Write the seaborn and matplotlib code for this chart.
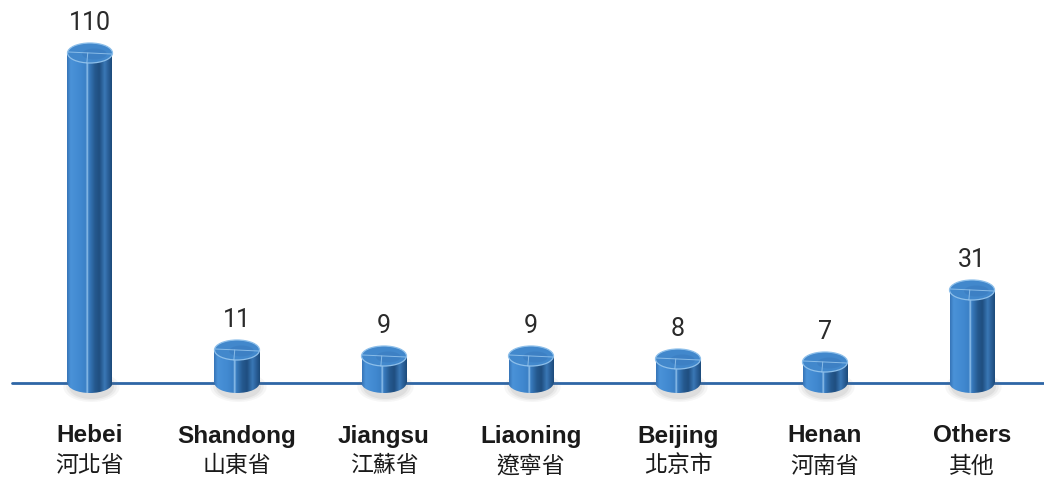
import numpy as np
import pandas as pd
import matplotlib
matplotlib.use("Agg")
import matplotlib.pyplot as plt
import seaborn as sns
from matplotlib.patches import Ellipse
from matplotlib.colors import LinearSegmentedColormap

# ---- data ----
regions_en = ["Hebei", "Shandong", "Jiangsu", "Liaoning", "Beijing", "Henan", "Others"]
regions_zh = ["河北省", "山東省", "江蘇省", "遼寧省", "北京市", "河南省", "其他"]
counts = [110, 11, 9, 9, 8, 7, 31]

sns.set_theme(style="white")
plt.rcParams["font.family"] = ["Liberation Sans", "Noto Sans CJK TC", "DejaVu Sans"]

W, H = 1044, 479
fig = plt.figure(figsize=(W / 100, H / 100), dpi=100)
ax = fig.add_axes([0, 0, 1, 1])

px_per_unit = 3.0
spacing_px = 147.0
XLIM = (-90 / spacing_px, 6 + (W - 972) / spacing_px)
YLIM = (-(H - 383) / px_per_unit, 383 / px_per_unit)

df = pd.DataFrame({"region": regions_en, "count": counts})
bar_w = 45 / spacing_px
sns.barplot(data=df, x="region", y="count", ax=ax, width=bar_w,
            color="#3d80c8", saturation=1, zorder=3, errorbar=None)
ax.axis("off")

# baseline
ax.axhline(0, xmin=12 / W, xmax=1, color="#2e66a6", lw=2, zorder=1)

cmap = LinearSegmentedColormap.from_list("cyl", [
    (0.00, "#3674b6"),
    (0.08, "#4a92d8"),
    (0.30, "#4189d0"),
    (0.42, "#3b80c6"),
    (0.45, "#9cc9f0"),
    (0.48, "#3a7ec2"),
    (0.62, "#25598f"),
    (0.72, "#1f4e80"),
    (0.84, "#3a78b6"),
    (0.92, "#2a5f98"),
    (1.00, "#1c4a7a"),
])
grad = np.linspace(0, 1, 256).reshape(1, -1)
eh = 20 / px_per_unit  # ellipse height in data units

for p in ax.patches[:len(counts)]:
    x0 = p.get_x()
    w = p.get_width()
    h = p.get_height()
    cx = x0 + w / 2
    p.set_alpha(0)
    # soft shadow
    for k, a in [(1.25, 0.06), (1.12, 0.08), (1.0, 0.10)]:
        sh = Ellipse((cx + 0.01, -eh * 0.2), w * k, eh * 1.2 * k,
                     facecolor="#6f6f6f", edgecolor="none", alpha=a, zorder=2)
        ax.add_patch(sh)
    # body gradient
    im = ax.imshow(grad, extent=[x0, x0 + w, 0, h], aspect="auto", cmap=cmap,
                   zorder=4, interpolation="bilinear")
    im.set_clip_path(p)
    # bottom ellipse
    be = Ellipse((cx, 0), w, eh, facecolor="none", edgecolor="none", zorder=4)
    ax.add_patch(be)
    im2 = ax.imshow(grad, extent=[x0, x0 + w, -eh / 2, eh / 2], aspect="auto",
                    cmap=cmap, zorder=4, interpolation="bilinear")
    im2.set_clip_path(be)
    # top ellipse
    te = Ellipse((cx, h), w, eh, facecolor="#4288cc", edgecolor="#8dbfea",
                 lw=0.9, zorder=6)
    ax.add_patch(te)
    inner = Ellipse((cx + w * 0.1, h - eh * 0.05), w * 0.55, eh * 0.55,
                    facecolor="#3a7cbf", edgecolor="none", alpha=0.6, zorder=6)
    ax.add_patch(inner)
    ax.plot([x0 + 0.02 * w, x0 + 0.98 * w], [h + eh * 0.05, h - eh * 0.05],
            color="#9ccaf0", lw=0.7, alpha=0.8, zorder=7)
    ax.plot([cx - 0.05 * w, cx - 0.07 * w], [h, h - eh / 2],
            color="#9ccaf0", lw=0.7, alpha=0.8, zorder=7)

ax.set_xlim(*XLIM)
ax.set_ylim(*YLIM)

# value labels
for i, v in enumerate(counts):
    ax.text(i, v + eh / 2 + 8 / px_per_unit, str(v), ha="center", va="bottom",
            fontsize=18, color="#2a2a2a", family=["Roboto", "DejaVu Sans"],
            fontweight="normal", zorder=8)

# category labels
for i, (en, zh) in enumerate(zip(regions_en, regions_zh)):
    ax.text(i, -(436 - 383) / px_per_unit, en, ha="center", va="center",
            fontsize=17.5, fontweight="bold", color="#1a1a1a",
            family=["Liberation Sans", "DejaVu Sans"])
    ax.text(i, -(466 - 383) / px_per_unit, zh, ha="center", va="center",
            fontsize=16.5, color="#1a1a1a",
            family=["Noto Sans CJK TC", "DejaVu Sans"])

fig.savefig("out.png", dpi=100, facecolor="white")
